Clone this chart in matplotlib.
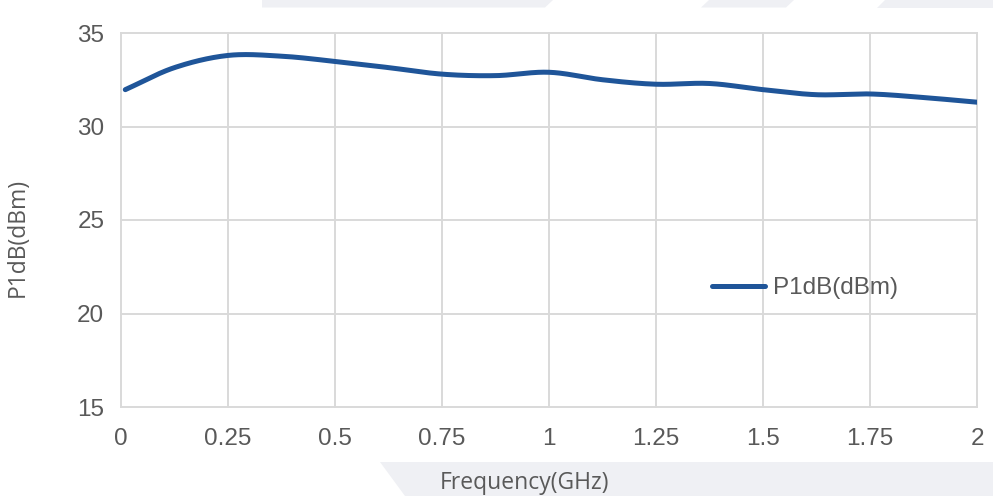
import numpy as np
import matplotlib
matplotlib.use("Agg")
import matplotlib.pyplot as plt
from matplotlib.patches import Polygon

# ---- data ----
freq_ghz = [0.01, 0.125, 0.25, 0.375, 0.5, 0.625, 0.75, 0.875, 1.0, 1.125,
            1.25, 1.375, 1.5, 1.625, 1.75, 1.875, 2.0]
p1db_dbm = [31.97, 33.15, 33.80, 33.76, 33.48, 33.15, 32.80, 32.72, 32.90, 32.50,
            32.26, 32.30, 31.97, 31.70, 31.74, 31.55, 31.30]
x_ticks = [0, 0.25, 0.5, 0.75, 1, 1.25, 1.5, 1.75, 2]
x_tick_labels = ["0", "0.25", "0.5", "0.75", "1", "1.25", "1.5", "1.75", "2"]
y_ticks = [15, 20, 25, 30, 35]
series_name = "P1dB(dBm)"
x_title = "Frequency(GHz)"
y_title = "P1dB(dBm)"


def catmull_rom(x, y, n=30):
    x = np.asarray(x, float)
    y = np.asarray(y, float)
    px = np.concatenate([[2 * x[0] - x[1]], x, [2 * x[-1] - x[-2]]])
    py = np.concatenate([[2 * y[0] - y[1]], y, [2 * y[-1] - y[-2]]])
    xs, ys = [], []
    t = np.linspace(0, 1, n, endpoint=False)
    for i in range(1, len(px) - 2):
        for arr, out in ((px, xs), (py, ys)):
            p0, p1, p2, p3 = arr[i - 1], arr[i], arr[i + 1], arr[i + 2]
            out.append(0.5 * ((2 * p1) + (-p0 + p2) * t
                              + (2 * p0 - 5 * p1 + 4 * p2 - p3) * t ** 2
                              + (-p0 + 3 * p1 - 3 * p2 + p3) * t ** 3))
    xs.append([x[-1]])
    ys.append([y[-1]])
    return np.concatenate(xs), np.concatenate(ys)


W, H = 993, 496
fig = plt.figure(figsize=(W / 100, H / 100), dpi=100)
fig.patch.set_facecolor("white")

shade = "#eff0f4"


def poly(pts):
    fig.add_artist(Polygon([(px_ / W, 1 - py_ / H) for px_, py_ in pts],
                           closed=True, transform=fig.transFigure,
                           facecolor=shade, edgecolor="none", zorder=0))


poly([(262, 0), (553, 0), (545, 7.5), (262, 7.5)])
poly([(709, 0), (794, 0), (786, 7.5), (701, 7.5)])
poly([(885, 0), (993, 0), (993, 7.5), (877, 7.5)])
poly([(380, 462), (993, 462), (993, 496), (405, 496)])

ax = fig.add_axes([121 / W, 1 - 407 / H, (977 - 121) / W, (407 - 33) / H])
ax.set_facecolor("none")
ax.set_xlim(0, 2)
ax.set_ylim(15, 35)

grid_c = "#d9d9d9"
for s in ax.spines.values():
    s.set_visible(False)
for xv in x_ticks:
    ax.axvline(xv, color=grid_c, lw=1.4, zorder=1, clip_on=False)
for yv in y_ticks:
    ax.axhline(yv, color=grid_c, lw=1.4, zorder=1, clip_on=False)

sx, sy = catmull_rom(freq_ghz, p1db_dbm)
ax.plot(sx, sy, color="#1f5599", lw=3.6, solid_capstyle="round",
        label=series_name, zorder=3)

tick_font = dict(family=["Liberation Sans", "DejaVu Sans"], size=17.5, color="#595959")
ax.set_xticks(x_ticks)
ax.set_xticklabels(x_tick_labels, **tick_font)
ax.set_yticks(y_ticks)
ax.set_yticklabels([str(v) for v in y_ticks], **tick_font)
ax.tick_params(axis="both", length=0)
ax.tick_params(axis="x", pad=15)
ax.tick_params(axis="y", pad=12)

lab_font = dict(family=["Open Sans", "DejaVu Sans"], size=16.5, color="#595959")
fig.text(525 / W, 1 - 483 / H, x_title, ha="center", va="center", **lab_font)
fig.text(18 / W, 1 - 237 / H, y_title, ha="center", va="center", rotation=90, **lab_font)

leg = ax.legend(loc="center left", bbox_to_anchor=((712 - 121) / 856, (407 - 288) / 374),
                frameon=False, borderpad=0, borderaxespad=0,
                handlelength=2.2, handletextpad=0.3,
                prop=dict(family=["Liberation Sans", "DejaVu Sans"], size=17.5))
for t in leg.get_texts():
    t.set_color("#595959")

fig.savefig("out.png", dpi=100)
